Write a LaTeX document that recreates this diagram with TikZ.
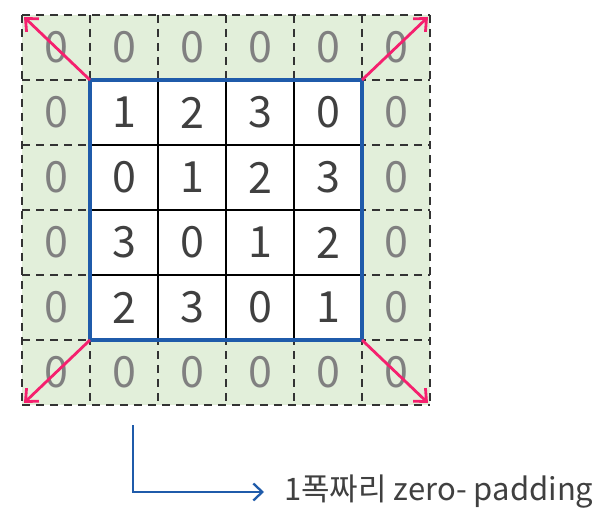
\documentclass[tikz,border=0pt]{standalone}
\usepackage{fontspec}
\setmainfont{Noto Sans CJK KR}
\usetikzlibrary{arrows.meta,calc,positioning}
\definecolor{padgreen}{HTML}{E2EFDA}
\definecolor{boxblue}{HTML}{1F5BAA}
\definecolor{hotpink}{HTML}{F5206E}
\definecolor{zerogray}{HTML}{808080}
\definecolor{digitgray}{HTML}{404040}
\definecolor{dashgray}{HTML}{333333}

\begin{document}
\begin{tikzpicture}[x=1pt,y=-1pt,
  padnum/.style={text=zerogray,inner sep=0pt,font=\fontsize{43}{43}\selectfont},
  innum/.style={text=digitgray,inner sep=0pt,font=\fontsize{43}{43}\selectfont},
  cornerarrow/.style={hotpink,line width=2.8pt,-{Straight Barb[length=10pt,width=18pt]}}]
  \useasboundingbox (0,0) rectangle (603,516);
  % padding area and dashed grid
  \fill[padgreen] (22,15) rectangle (430,405);
  \foreach \k in {0,...,6}{
    \draw[dashgray,line width=2.3pt,dash pattern=on 8pt off 6pt] (22+68*\k,15) -- (22+68*\k,405);
    \draw[dashgray,line width=2.3pt,dash pattern=on 8pt off 6pt] (22,15+65*\k) -- (430,15+65*\k);
  }
  % inner 4x4 input
  \fill[white] (90,80) rectangle (362,340);
  \foreach \k in {1,2,3}{
    \draw[black,line width=1.6pt] (90+68*\k,80) -- (90+68*\k,340);
    \draw[black,line width=1.6pt] (90,80+65*\k) -- (362,80+65*\k);
  }
  \draw[boxblue,line width=4pt] (90,80) rectangle (362,340);
  % zeros on the border
  \foreach \i in {0,...,5}{
    \node[padnum] (c\i0) at (56+68*\i,47.5) {0};
    \node[padnum] (c\i5) at (56+68*\i,372.5) {0};
  }
  \foreach \j in {1,...,4}{
    \node[padnum] (c0\j) at (56,47.5+65*\j) {0};
    \node[padnum] (c5\j) at (396,47.5+65*\j) {0};
  }
  % values
  \foreach \j/\vals in {1/{1,2,3,0},2/{0,1,2,3},3/{3,0,1,2},4/{2,3,0,1}}{
    \foreach \v [count=\i] in \vals{
      \node[innum] (c\i\j) at (56+68*\i,47.5+65*\j) {\v};
    }
  }
  % corner arrows
  \coordinate (inNW) at (90,80);
  \coordinate (inNE) at (362,80);
  \coordinate (inSW) at (90,340);
  \coordinate (inSE) at (362,340);
  \coordinate (outNW) at (24,17);
  \coordinate (outNE) at (428,17);
  \coordinate (outSW) at (24,403);
  \coordinate (outSE) at (428,403);
  \draw[cornerarrow] (inNW) -- (outNW);
  \draw[cornerarrow] (inNE) -- (outNE);
  \draw[cornerarrow] (inSW) -- (outSW);
  \draw[cornerarrow] (inSE) -- (outSE);
  % note
  \node[anchor=west,inner sep=0pt,text=digitgray,font=\fontsize{31}{31}\selectfont] (note) at (284,492) {1폭짜리 zero- padding};
  \coordinate (bendtop) at (133,425);
  \draw[boxblue,line width=2.3pt,shorten >=20pt,-{Straight Barb[length=9pt,width=17pt]}] (bendtop) |- (note.west);
\end{tikzpicture}
\end{document}
